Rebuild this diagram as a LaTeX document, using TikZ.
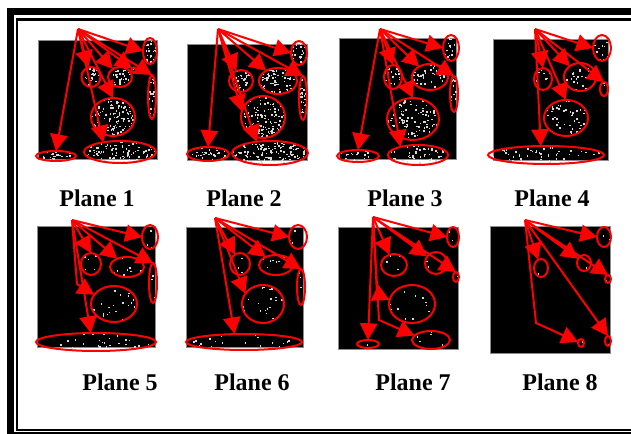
\documentclass[tikz,border=0pt]{standalone}
\usepackage{fontspec}
\setmainfont{Liberation Serif}
\usetikzlibrary{arrows.meta,shapes.geometric}
\tikzset{
  ell/.style={ellipse, draw=red, line width=1.5pt, inner sep=0pt, outer sep=0pt},
  arr/.style={draw=red, line width=1.5pt, line join=miter, -{Triangle[length=12.5pt,width=13pt]}},
  speck/.style={fill=white!85!black},
  sq/.style={fill=black, draw=black!45, line width=0.4pt},
  lab/.style={font=\fontsize{18}{20}\selectfont\bfseries, inner sep=0pt},
}
\newcommand\myblob[5]{%
  \pgfmathtruncatemacro\nn{max(1,\dens*3.1416*#4*#5)}%
  \begin{scope}
    \clip (#2,#3) ellipse [x radius=#4, y radius=#5];
    \foreach \k in {1,...,\nn}{\fill[speck] (#2+#4*rand, #3+#5*rand) rectangle ++(1.5,1.5);}
  \end{scope}
  \node[ell, minimum width=#4*1.5pt, minimum height=#5*1.5pt] (#1) at (#2,#3) {};%
}
\begin{document}
\begin{tikzpicture}[x=0.75pt,y=-0.75pt]
\pgfmathsetseed{4711}
\useasboundingbox (0,0) rectangle (631,434);
\clip (0,0) rectangle (631,434);
\fill[white] (0,0) rectangle (631,434);
% frame
\draw[line width=4.9pt] (10.3,11.7) rectangle (660,435.3);
\draw[line width=1.6pt] (17.2,19.5) rectangle (660,430);

% ---------- Panel 1 ----------
\fill[sq] (38,40) rectangle (157,159);
\coordinate (s1) at (78,29);
\def\dens{0.10}
\myblob{p1a}{150}{51}{7}{13}
\myblob{p1b}{91}{77}{9.5}{10}
\myblob{p1c}{120}{77}{12}{10}
\myblob{p1d}{134}{70}{2.5}{2.5}
\myblob{p1e}{152}{97}{4}{22}
\myblob{p1f}{113}{117}{22}{19}
\myblob{p1g}{56}{156}{20}{5}
\myblob{p1h}{120}{152}{36}{11}
\draw[arr] (s1) -- (p1a.west);
\draw[arr] (s1) -- (p1b);
\draw[arr] (s1) -- (p1c);
\draw[arr] (s1) -- (p1d);
\draw[arr] (s1) -- (p1e.north);
\draw[arr] (s1) -- (p1f.north);
\draw[arr] (s1) -- (p1g.north);
\draw[arr] (s1) -- (p1h.150);
\node[lab] (l1) at (97,198) {Plane 1};

% ---------- Panel 2 ----------
\fill[sq] (187,44) rectangle (307,160);
\coordinate (s2) at (218,29);
\def\dens{0.11}
\myblob{p2a}{299}{53}{8}{12}
\myblob{p2b}{241}{81}{12}{11}
\myblob{p2c}{278}{81}{19}{13}
\myblob{p2d}{303}{98}{4}{22}
\myblob{p2e}{263}{117}{22}{21}
\myblob{p2f}{208}{154}{21}{7}
\myblob{p2g}{270}{153}{38}{12}
\draw[arr] (s2) -- (p2a.west);
\draw[arr] (s2) -- (p2b);
\draw[arr] (s2) -- (p2c);
\draw[arr] (s2) -- (p2d.north);
\draw[arr] (s2) -- (p2e.165);
\draw[arr] (s2) -- (p2f.north);
\draw[arr] (s2) -- (p2g.140);
\node[lab] (l2) at (244,198) {Plane 2};

% ---------- Panel 3 ----------
\fill[sq] (339,38) rectangle (456,159);
\coordinate (s3) at (380,29);
\def\dens{0.06}
\myblob{p3a}{451}{48}{8}{13}
\myblob{p3b}{393}{77}{9}{12}
\myblob{p3c}{430}{77}{18}{13}
\myblob{p3d}{454}{94}{4}{18}
\myblob{p3e}{413}{119}{26}{21}
\myblob{p3f}{358}{156}{21}{6}
\myblob{p3g}{418}{155}{30}{10}
\draw[arr] (s3) -- (p3a.west);
\draw[arr] (s3) -- (p3b.north);
\draw[arr] (s3) -- (p3c);
\draw[arr] (s3) -- (p3d.north);
\draw[arr] (s3) -- (p3e.north);
\draw[arr] (s3) -- (p3f.north);
\draw[arr] (s3) -- (p3g.155);
\node[lab] (l3) at (405,198) {Plane 3};

% ---------- Panel 4 ----------
\fill[sq] (493,39) rectangle (608,160);
\coordinate (s4) at (535,29);
\def\dens{0.04}
\myblob{p4a}{602}{48}{9}{13}
\myblob{p4b}{543}{79}{9}{11}
\myblob{p4c}{580}{77}{16}{14}
\myblob{p4d}{604}{89}{4}{7}
\myblob{p4e}{566}{118}{22}{18}
\myblob{p4f}{546}{155}{58}{9}
\draw[arr] (s4) -- (p4a.west);
\draw[arr] (s4) -- (p4b.north);
\draw[arr] (s4) -- (p4c);
\draw[arr] (s4) -- (p4d.north);
\draw[arr] (s4) -- (p4e.north);
\draw[arr] (s4) -- (p4f.120);
\node[lab] (l4) at (552,198) {Plane 4};

% ---------- Panel 5 ----------
\fill[sq] (37,226) rectangle (155,347);
\coordinate (s5) at (72,220);
\coordinate (b5) at (77,284);
\def\dens{0.02}
\myblob{p5a}{150}{237}{8}{12}
\myblob{p5b}{91}{264}{10}{11}
\myblob{p5c}{127}{267}{17}{10}
\myblob{p5d}{153}{283}{4}{20}
\myblob{p5e}{114}{304}{23}{18}
\myblob{p5f}{96}{342}{60}{9}
\draw[arr] (s5) -- (p5a.west);
\draw[arr] (s5) -- (p5b.north);
\draw[arr] (s5) -- (p5c);
\draw[arr] (s5) -- (p5d.north);
\draw[arr] (s5) -- (b5) -- (p5e.155);
\draw[arr] (s5) -- (p5f.120);
\node[lab] (l5) at (120,382) {Plane 5};

% ---------- Panel 6 ----------
\fill[sq] (186,227) rectangle (303,347);
\coordinate (s6) at (215,218);
\def\dens{0.02}
\myblob{p6a}{298}{237}{9}{12}
\myblob{p6b}{240}{264}{10}{11}
\myblob{p6c}{276}{265}{17}{10}
\myblob{p6d}{301}{287}{4}{18}
\myblob{p6e}{263}{304}{21}{19}
\myblob{p6f}{244}{342}{58}{8}
\draw[arr] (s6) -- (p6a.west);
\draw[arr] (s6) -- (p6b);
\draw[arr] (s6) -- (p6c);
\draw[arr] (s6) -- (p6d.north);
\draw[arr] (s6) -- (p6e.150);
\draw[arr] (s6) -- (p6f.140);
\node[lab] (l6) at (252,382) {Plane 6};

% ---------- Panel 7 ----------
\fill[sq] (338,227) rectangle (458,349);
\coordinate (s7) at (373,217);
\coordinate (b7a) at (377,294);
\coordinate (b7b) at (379,320);
\def\dens{0.012}
\myblob{p7a}{453}{237}{6}{10}
\myblob{p7b}{394}{265}{13}{11}
\myblob{p7c}{436}{263}{11}{11}
\myblob{p7d}{456}{277}{3}{5}
\myblob{p7e}{412}{304}{23}{19}
\myblob{p7f}{368}{344}{11}{4}
\myblob{p7g}{431}{340}{19}{9}
\draw[arr] (s7) -- (p7a.west);
\draw[arr] (s7) -- (p7b);
\draw[arr] (s7) -- (p7c);
\draw[arr] (s7) -- (p7d.north);
\draw[arr] (s7) -- (b7a) -- (p7e.170);
\draw[arr] (s7) -- (p7f.north);
\draw[arr] (s7) -- (b7b) -- (p7g.165);
\node[lab] (l7) at (413,382) {Plane 7};

% ---------- Panel 8 ----------
\fill[sq] (490,226) rectangle (610,353);
\coordinate (s8) at (525,220);
\coordinate (b8) at (536,323);
\def\dens{0.01}
\myblob{p8a}{604}{237}{7}{10}
\myblob{p8b}{541}{268}{7}{9}
\myblob{p8c}{584}{263}{7}{8}
\myblob{p8d}{608}{279}{3}{4}
\myblob{p8e}{581}{343}{3}{4}
\myblob{p8f}{608}{341}{3}{5}
\draw[arr] (s8) -- (p8a.west);
\draw[arr] (s8) -- (p8b);
\draw[arr] (s8) -- (p8c);
\draw[arr] (s8) -- (p8d.north);
\draw[arr] (s8) -- (b8) -- (p8e.160);
\draw[arr] (s8) -- (p8f.north);
\node[lab] (l8) at (560,382) {Plane 8};
\end{tikzpicture}
\end{document}
